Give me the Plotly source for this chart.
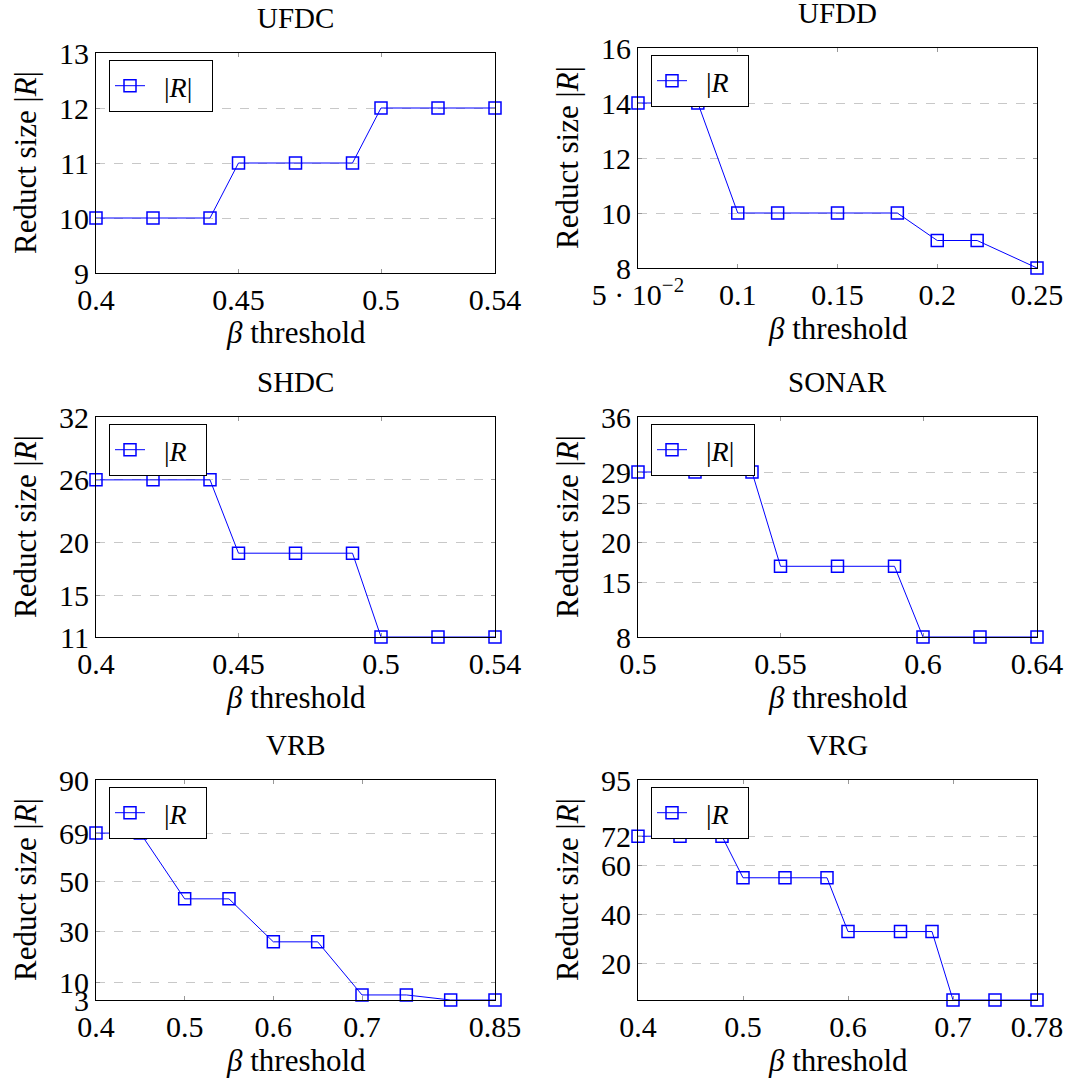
import plotly.graph_objects as go

# data
titles = ["UFDC", "UFDD", "SHDC", "SONAR", "VRB", "VRG"]

ufdc_x = [0.40, 0.42, 0.44, 0.45, 0.47, 0.49, 0.50, 0.52, 0.54]
ufdc_y = [10, 10, 10, 11, 11, 11, 12, 12, 12]

ufdd_x = [0.05, 0.08, 0.10, 0.12, 0.15, 0.18, 0.20, 0.22, 0.25]
ufdd_y = [14, 14, 10, 10, 10, 10, 9, 9, 8]

shdc_x = [0.40, 0.42, 0.44, 0.45, 0.47, 0.49, 0.50, 0.52, 0.54]
shdc_y = [26, 26, 26, 19, 19, 19, 11, 11, 11]

sonar_x = [0.50, 0.52, 0.54, 0.55, 0.57, 0.59, 0.60, 0.62, 0.64]
sonar_y = [29, 29, 29, 17, 17, 17, 8, 8, 8]

vrb_x = [0.40, 0.45, 0.50, 0.55, 0.60, 0.65, 0.70, 0.75, 0.80, 0.85]
vrb_y = [69, 69, 43, 43, 26, 26, 5, 5, 3, 3]

vrg_x = [0.40, 0.44, 0.48, 0.50, 0.54, 0.58, 0.60, 0.65, 0.68, 0.70, 0.74, 0.78]
vrg_y = [72, 72, 72, 55, 55, 55, 33, 33, 33, 5, 5, 5]

xs = [ufdc_x, ufdd_x, shdc_x, sonar_x, vrb_x, vrg_x]
ys = [ufdc_y, ufdd_y, shdc_y, sonar_y, vrb_y, vrg_y]

x_ranges = [[0.4, 0.54], [0.05, 0.25], [0.4, 0.54], [0.5, 0.64], [0.4, 0.85], [0.4, 0.78]]
x_ticks = [[0.4, 0.45, 0.5, 0.54], [0.05, 0.1, 0.15, 0.2, 0.25], [0.4, 0.45, 0.5, 0.54],
           [0.5, 0.55, 0.6, 0.64], [0.4, 0.5, 0.6, 0.7, 0.85], [0.4, 0.5, 0.6, 0.7, 0.78]]
x_ticktext = [["0.4", "0.45", "0.5", "0.54"],
              ["5 · 10<sup>−2</sup>", "0.1", "0.15", "0.2", "0.25"],
              ["0.4", "0.45", "0.5", "0.54"],
              ["0.5", "0.55", "0.6", "0.64"],
              ["0.4", "0.5", "0.6", "0.7", "0.85"],
              ["0.4", "0.5", "0.6", "0.7", "0.78"]]
y_ranges = [[9, 13], [8, 16], [11, 32], [8, 36], [3, 90], [5, 95]]
y_ticks = [[9, 10, 11, 12, 13], [8, 10, 12, 14, 16], [11, 15, 20, 26, 32],
           [8, 15, 20, 25, 29, 36], [3, 10, 30, 50, 69, 90], [20, 40, 60, 72, 95]]
legend_labels = ["|<i>R</i>|", "|<i>R</i>", "|<i>R</i>", "|<i>R</i>|", "|<i>R</i>", "|<i>R</i>"]

# plot boxes in pixels (left, top, right, bottom)
W, H = 1070, 1079
boxes = [(96, 53, 495, 273), (638, 48, 1037, 268),
         (96, 417, 495, 637), (638, 417, 1037, 637),
         (96, 780, 495, 1000), (638, 780, 1037, 1000)]

FONT = "Liberation Serif"
BLUE = "#0000ff"
PAD = "\u00a0\u00a0"

fig = go.Figure()
annotations = []

for i in range(6):
    n = "" if i == 0 else str(i + 1)
    l, t, r, b = boxes[i]
    leg = "legend" if i == 0 else "legend" + str(i + 1)
    fig.add_trace(go.Scatter(
        x=xs[i], y=ys[i], mode="lines+markers", name=PAD + legend_labels[i] + PAD,
        xaxis="x" + n, yaxis="y" + n, legend=leg, cliponaxis=False,
        line=dict(color=BLUE, width=1),
        marker=dict(symbol="square-open", size=12, color=BLUE, line=dict(width=1.5, color=BLUE)),
    ))
    fig.update_layout(**{
        "xaxis" + n: dict(
            domain=[l / W, r / W], anchor="y" + n, range=x_ranges[i], automargin=False,
            tickvals=x_ticks[i], ticktext=x_ticktext[i],
            showgrid=False, zeroline=False,
            showline=True, linecolor="black", linewidth=1, mirror="ticks",
            ticks="inside", ticklen=4, tickcolor="#999999",
            tickfont=dict(family=FONT, size=30, color="black"),
        ),
        "yaxis" + n: dict(
            domain=[1 - b / H, 1 - t / H], anchor="x" + n, range=y_ranges[i], automargin=False,
            tickvals=y_ticks[i],
            showgrid=True, gridcolor="#c8c8c8", griddash="dash", gridwidth=1, zeroline=False,
            showline=True, linecolor="black", linewidth=1, mirror="ticks",
            ticks="inside", ticklen=4, tickcolor="#999999",
            tickfont=dict(family=FONT, size=30, color="black"),
        ),
        leg: dict(
            x=(l + 13) / W, y=1 - (t + 7) / H, xanchor="left", yanchor="top",
            xref="paper", yref="paper",
            bordercolor="black", borderwidth=1, bgcolor="white",
            font=dict(family=FONT, size=28, color="black"),
        ),
    })
    cx = (l + r) / 2
    common = dict(xref="paper", yref="paper", xanchor="center", yanchor="middle", showarrow=False)
    annotations.append(dict(text=titles[i], x=cx / W, y=1 - (t - 35) / H,
                            font=dict(family=FONT, size=29, color="black"), **common))
    annotations.append(dict(text="<i>β</i> threshold", x=cx / W, y=1 - (b + 60) / H,
                            font=dict(family=FONT, size=31, color="black"), **common))
    annotations.append(dict(text="Reduct size |<i>R</i>|", x=(l - 71) / W, y=1 - (t + b) / 2 / H,
                            textangle=-90, font=dict(family=FONT, size=31, color="black"), **common))

fig.update_layout(
    width=W, height=H,
    margin=dict(l=0, r=0, t=0, b=0),
    paper_bgcolor="white", plot_bgcolor="white",
    showlegend=True,
    annotations=annotations,
)

# drop the page's default body margin so the figure fills the window exactly
fig.write_html("out.html", config={"displayModeBar": False},
               post_script="document.body.style.margin='0';document.body.style.overflow='hidden';")
